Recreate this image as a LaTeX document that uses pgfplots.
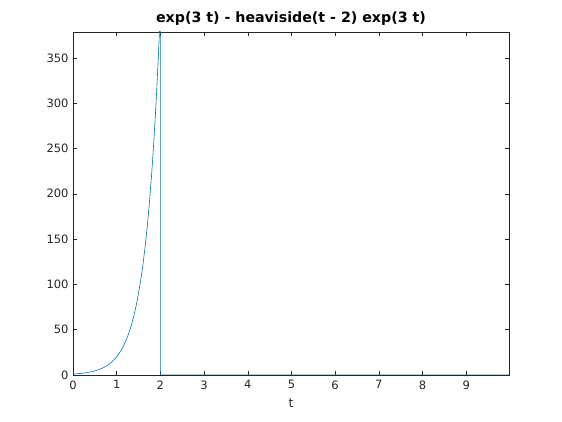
\documentclass[border=0pt]{standalone}
\usepackage{pgfplots}
\pgfplotsset{compat=1.18}
\usepackage{fontspec}
\setmainfont{DejaVu Sans}
\definecolor{mblue}{rgb}{0,0.447,0.741}
\definecolor{mgrey}{rgb}{0.15,0.15,0.15}
\begin{document}
\begin{tikzpicture}
\begin{axis}[
  at={(0,0)}, anchor=south west,
  scale only axis, width=436pt, height=343pt,
  xmin=0, xmax=9.98, ymin=0, ymax=378.5,
  xtick={0,1,...,9}, ytick={0,50,...,350},
  tick align=inside, major tick length=4pt,
  tick style={mgrey, line width=0.5pt},
  axis line style={mgrey, line width=0.8pt},
  ticklabel style={font=\fontsize{11.5}{13}\selectfont, text=mgrey},
  yticklabel style={xshift=-1pt},
  xticklabel style={yshift=-2pt},
  /pgf/number format/assume math mode=true,
  xlabel={t}, xlabel style={font=\fontsize{12.5}{14}\selectfont, text=mgrey, yshift=-3pt},
  title={\textbf{exp(3 t) - heaviside(t - 2) exp(3 t)}},
  title style={font=\fontsize{14.2}{16}\selectfont, yshift=-3pt},
  clip=true,
]
\addplot[mblue, line width=0.6pt] coordinates {
(0,1) (0.1,1.3499) (0.2,1.8221) (0.3,2.4596) (0.4,3.3201) (0.5,4.4817)
(0.6,6.0496) (0.7,8.1662) (0.8,11.023) (0.9,14.880) (1.0,20.086)
(1.05,23.336) (1.1,27.113) (1.15,31.500) (1.2,36.598) (1.25,42.521)
(1.3,49.402) (1.35,57.397) (1.4,66.686) (1.45,77.478) (1.5,90.017)
(1.55,104.58) (1.6,121.51) (1.65,141.17) (1.7,164.02) (1.75,190.57)
(1.8,221.41) (1.85,257.24) (1.9,298.87) (1.93,328.01) (1.95,347.23)
(1.97,368.71) (1.98,379.93) (2.0,403.43) (2.0,151) (2.0,0) (9.98,0)
};
\end{axis}
\pgfresetboundingbox
\path[use as bounding box] (-73pt,-47pt) rectangle (489pt,375pt);
\end{tikzpicture}
\end{document}
